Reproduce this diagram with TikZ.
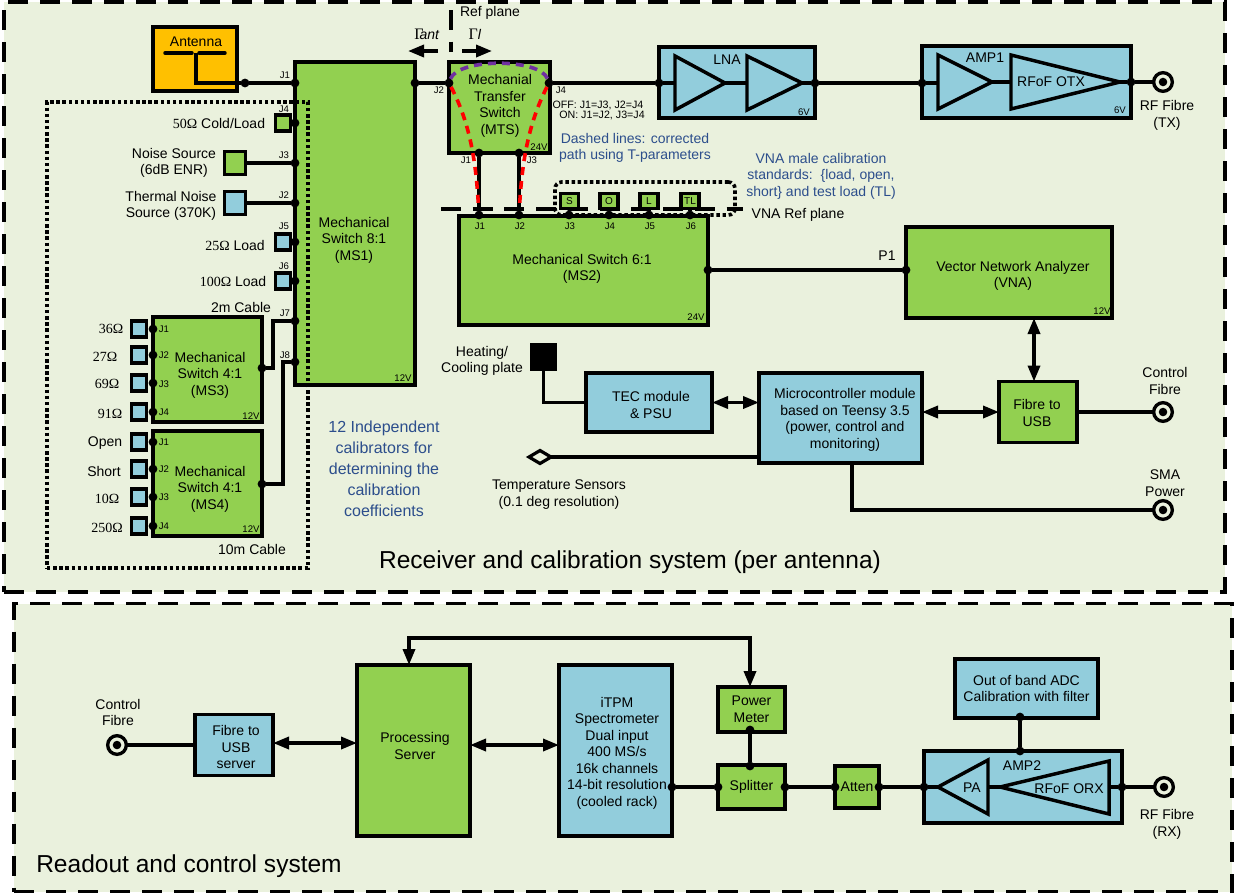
\documentclass[tikz,border=0pt]{standalone}
\usepackage{fontspec}
\setmainfont{Liberation Sans}
\newfontfamily\symfont{Liberation Serif}
\usetikzlibrary{arrows.meta,shapes.geometric}
\definecolor{panelbg}{RGB}{234,241,221}
\definecolor{mgreen}{RGB}{146,208,80}
\definecolor{mblue}{RGB}{146,205,220}
\definecolor{morange}{RGB}{255,192,0}
\definecolor{mtext}{RGB}{44,78,140}
\definecolor{mpurple}{RGB}{112,48,160}
\newcommand{\sr}[1]{{\symfont #1}}
\tikzset{
    wh/.style 2 args={minimum width=#1*0.75pt, minimum height=#2*0.75pt},
    box/.style={rectangle, draw, line width=2.6pt, inner sep=0pt, outer sep=0pt, font=\fontsize{10.5}{12.4}\selectfont, align=center},
    greenbox/.style={box, fill=mgreen},
    bluebox/.style={box, fill=mblue},
    dot/.style={circle, fill=black, inner sep=0pt, outer sep=0pt, minimum size=6.6pt},
    txt/.style={inner sep=0pt, yshift=-0.75pt, font=\fontsize{10.5}{12.4}\selectfont, align=center},
    smalltxt/.style={inner sep=0pt, font=\fontsize{7.2}{8.5}\selectfont, align=center},
    bluetxt/.style={txt, text=mtext},
    titletxt/.style={inner sep=0pt, font=\fontsize{18.4}{21}\selectfont},
    wire/.style={line width=2.6pt},
    amp/.style={line width=2.6pt, fill=mblue, line join=miter},
    rfport/.style={circle, draw, line width=2.5pt, fill=panelbg, inner sep=0pt, outer sep=0pt, minimum size=14pt,
        path picture={\fill[black] (path picture bounding box.center) circle (3.2pt);}},
    panel/.style={rectangle, draw, fill=panelbg, inner sep=0pt, outer sep=0pt, dash pattern=on 15pt off 9pt},
    refline/.style={line width=2.6pt, dash pattern=on 15pt off 8.8pt},
    dotbox/.style={rectangle, draw, line width=2.7pt, inner sep=0pt, outer sep=0pt, dash pattern=on 2.6pt off 2pt},
    corrected/.style={line width=2.7pt, dash pattern=on 6pt off 4.5pt},
}

\begin{document}
\begin{tikzpicture}[x=0.75pt, y=-0.75pt, >={Triangle[length=12pt, width=9pt]}]
    \useasboundingbox (0,0) rectangle (1234,894);

    % panels
    \node[panel, line width=2.6pt, wh={1221}{590}] (rxpanel) at (614.5,297) {};
    \node[panel, line width=2.4pt, wh={1218}{288}] (readpanel) at (623,747.5) {};
    \node[titletxt] (rxtitle) at (630,562) {Receiver and calibration system (per antenna)};
    \node[titletxt] (readtitle) at (189,866) {Readout and control system};

    % receiver: boxes
    \node[box, fill=morange, wh={84}{64}] (antenna) at (195,59) {};
    \node[greenbox, wh={120}{323}] (ms1) at (355,223.5) {};
    \node[greenbox, wh={101}{91}] (mts) at (499.5,107.5) {};
    \node[greenbox, wh={249}{109}] (ms2) at (583.5,270.5) {};
    \node[bluebox, wh={156}{71}] (lna) at (737,82.5) {};
    \node[bluebox, wh={209}{72}] (amp1) at (1026.5,82) {};
    \node[greenbox, wh={206}{91}] (vna) at (1009,272.5) {};
    \node[greenbox, wh={78}{61}] (fibreusb) at (1038,412) {};
    \node[bluebox, wh={163}{90}] (micro) at (840.5,418) {};
    \node[bluebox, wh={126}{59}] (tec) at (649,402.5) {};
    \node[greenbox, wh={109}{105}] (ms3) at (207.5,369.5) {};
    \node[greenbox, wh={109}{105}] (ms4) at (207.5,483.5) {};
    \node[fill=black, inner sep=0pt, wh={27}{28}] (plate) at (543.5,357) {};
    \node[diamond, draw, line width=2.4pt, fill=panelbg, inner sep=0pt, outer sep=0pt, wh={22}{13}] (tempsens) at (540,457) {};

    % calibrator loads
    \node[greenbox, wh={15}{16}] (cold) at (283,123) {};
    \node[greenbox, wh={21}{23}] (noise) at (235,163) {};
    \node[bluebox, wh={21}{23}] (thermal) at (235,203) {};
    \node[bluebox, wh={15}{16}] (lda) at (283,242) {};
    \node[bluebox, wh={15}{16}] (ldb) at (283,281) {};
    \node[bluebox, wh={15}{16}] (ldc) at (139,329) {};
    \node[bluebox, wh={15}{16}] (ldd) at (139,355) {};
    \node[bluebox, wh={15}{16}] (lde) at (139,383) {};
    \node[bluebox, wh={15}{16}] (ldf) at (139,412) {};
    \node[bluebox, wh={15}{16}] (ldg) at (139,442) {};
    \node[bluebox, wh={15}{16}] (ldh) at (139,469) {};
    \node[bluebox, wh={15}{16}] (ldi) at (139,497) {};
    \node[bluebox, wh={15}{16}] (ldj) at (139,526) {};

    % ports
    \node[dot] (ms1j1) at (295,83) {};
    \node[dot] (ms1j4) at (295,123) {};
    \node[dot] (ms1j3) at (295,163) {};
    \node[dot] (ms1j2) at (295,203) {};
    \node[dot] (ms1j5) at (295,242) {};
    \node[dot] (ms1j6) at (295,281) {};
    \node[dot] (ms1j7) at (295,321) {};
    \node[dot] (ms1j8) at (295,362) {};
    \node[dot] (ms1out) at (415,83) {};
    \node[dot] (antdot) at (245,83) {};
    \node[dot] (mtsj2) at (449,83) {};
    \node[dot] (mtsj4) at (549,83) {};
    \node[dot] (mtsj1) at (479,153) {};
    \node[dot] (mtsj3) at (519,153) {};
    \node[dot] (ms2j1) at (479,215) {};
    \node[dot] (ms2j2) at (519,215) {};
    \node[dot] (ms2j3) at (569,215) {};
    \node[dot] (ms2j4) at (609,215) {};
    \node[dot] (ms2j5) at (649,215) {};
    \node[dot] (ms2j6) at (690,215) {};
    \node[dot] (ms2p1) at (708,270) {};
    \node[dot] (vnap1) at (906,270) {};
    \node[dot] (lnain) at (659,83) {};
    \node[dot] (lnaout) at (815,83) {};
    \node[dot] (amp1in) at (922,83) {};
    \node[dot] (amp1out) at (1131,82) {};
    \node[dot] (ms3j1) at (153,329) {};
    \node[dot] (ms3j2) at (153,355) {};
    \node[dot] (ms3j3) at (153,383) {};
    \node[dot] (ms3j4) at (153,412) {};
    \node[dot] (ms4j1) at (153,442) {};
    \node[dot] (ms4j2) at (153,469) {};
    \node[dot] (ms4j3) at (153,497) {};
    \node[dot] (ms4j4) at (153,526) {};
    \node[dot] (ms3out) at (262,368) {};
    \node[dot] (ms4out) at (262,484) {};
    \node[rfport] (txport) at (1163,82) {};
    \node[rfport] (ctrlport) at (1163,412) {};
    \node[rfport] (smaport) at (1163,510) {};

    % dipole and amplifier triangles
    \coordinate (dipleft) at (165,53);
    \coordinate (dipgapl) at (192,53);
    \coordinate (dipgapr) at (199,53);
    \coordinate (dipright) at (225,53);
    \coordinate (dipfeed) at (196,53);
    \draw[wire, line cap=round] (dipleft) -- (dipgapl);
    \draw[wire, line cap=round] (dipgapr) -- (dipright);
    \draw[wire] (dipfeed) |- (antdot);
    \draw[amp] (675,56) -- (725,83) -- (675,110) -- cycle;
    \draw[amp] (747,56) -- (802,83) -- (747,110) -- cycle;
    \draw[amp] (938,55) -- (992,82) -- (938,109) -- cycle;
    \draw[amp] (1011,55) -- (1120,82) -- (1011,109) -- cycle;
    \coordinate (lnaa) at (675,83);
    \coordinate (lnab) at (725,83);
    \coordinate (lnac) at (747,83);
    \coordinate (lnad) at (802,83);
    \coordinate (ampa) at (938,83);
    \coordinate (ampb) at (992,82);
    \coordinate (ampc) at (1011,82);
    \coordinate (ampd) at (1120,82);

    % reference planes
    \coordinate (refa) at (451,10);
    \coordinate (refb) at (451,52);
    \coordinate (vrefa) at (441,209);
    \coordinate (vrefb) at (743,209);
    \draw[refline] (refa) -- (refb);
    \draw[refline] (vrefa) -- (vrefb);
    \coordinate (gantl) at (408,51);
    \coordinate (gantr) at (438,51);
    \coordinate (gll) at (462,51);
    \coordinate (glr) at (492,51);
    \draw[wire, ->] (gantr) -- (gantl);
    \draw[wire, ->] (gll) -- (glr);

    % VNA standards
    \node[dotbox, rounded corners=5pt, wh={180}{33}] (stdframe) at (645,198.5) {};
    \node[greenbox, wh={18}{15}, font=\fontsize{7.5}{9}\selectfont] (stds) at (569.5,201) {S};
    \node[greenbox, wh={18}{15}, font=\fontsize{7.5}{9}\selectfont] (stdo) at (609,201) {O};
    \node[greenbox, wh={18}{15}, font=\fontsize{7.5}{9}\selectfont] (stdl) at (649,201) {L};
    \node[greenbox, wh={18}{15}, font=\fontsize{7.5}{9}\selectfont] (stdtl) at (690,201) {TL};

    % receiver: wires
    \draw[wire] (antdot) -- (ms1j1);
    \draw[wire] (noise) -- (ms1j3);
    \draw[wire] (thermal) -- (ms1j2);
    \draw[wire] (cold) -- (ms1j4);
    \draw[wire] (lda) -- (ms1j5);
    \draw[wire] (ldb) -- (ms1j6);
    \draw[wire] (ms1out) -- (mtsj2);
    \draw[wire] (mtsj4) -- (lnain);
    \draw[wire] (lnain) -- (lnaa);
    \draw[wire] (lnab) -- (lnac);
    \draw[wire] (lnad) -- (lnaout);
    \draw[wire] (lnaout) -- (amp1in);
    \draw[wire] (amp1in) -- (ampa);
    \draw[wire] (ampb) -- (ampc);
    \draw[wire] (ampd) -- (amp1out);
    \draw[wire] (amp1out) -- (txport);
    \draw[wire] (mtsj1) -- (ms2j1);
    \draw[wire] (mtsj3) -- (ms2j2);
    \draw[wire] (stds) -- (ms2j3);
    \draw[wire] (stdo) -- (ms2j4);
    \draw[wire] (stdl) -- (ms2j5);
    \draw[wire] (stdtl) -- (ms2j6);
    \draw[wire] (ms2p1) -- (vnap1);
    \coordinate (ms3bend) at (273,321);
    \coordinate (ms4bend) at (283,362);
    \draw[wire] (ms3out) -| (ms3bend) -- (ms1j7);
    \draw[wire] (ms4out) -| (ms4bend) -- (ms1j8);
    \draw[wire, <->] (vna.south -| 1034,318) -- (fibreusb.north -| 1034,382);
    \draw[wire, <->] (tec.east) -- (micro.west |- tec.east);
    \draw[wire, <->] (micro.east |- fibreusb.west) -- (fibreusb.west);
    \draw[wire] (fibreusb) -- (ctrlport);
    \draw[wire] (plate.south) |- (tec.west);
    \draw[wire] (tempsens.east) -- (micro.west |- tempsens.east);
    \coordinate (microsma) at (852,463);
    \draw[wire] (microsma) |- (smaport);

    % dashed paths
    \draw[corrected, red, shorten >=5pt] (mtsj2) .. controls (471,125) and (476,165) .. (ms2j1);
    \draw[corrected, red, shorten >=5pt] (mtsj4) .. controls (527.5,125) and (522,165) .. (ms2j2);
    \draw[corrected, mpurple] (mtsj2) .. controls (458,58) and (540,58) .. (mtsj4);
    \node[dotbox, wh={261}{466}] (calframe) at (177.5,335) {};

    % receiver: texts
    \node[txt] (antlabel) at (196,41) {Antenna};
    \node[txt] (ms1text) at (354,239) {Mechanical\\Switch 8:1\\(MS1)};
    \node[txt] (mtstext) at (500,105) {Mechanial\\Transfer\\Switch\\(MTS)};
    \node[txt] (ms2text) at (582,268) {Mechanical Switch 6:1\\(MS2)};
    \node[txt] (vnatext) at (1013,275) {Vector Network Analyzer\\(VNA)};
    \node[txt] (fibretext) at (1037,412) {Fibre to\\USB};
    \node[txt] (microtext) at (845,419) {Microcontroller module\\based on Teensy 3.5\\(power, control and\\monitoring)};
    \node[txt] (tectext) at (651,404) {TEC module\\\& PSU};
    \node[txt] (ms3text) at (210,374) {Mechanical\\Switch 4:1\\(MS3)};
    \node[txt] (ms4text) at (210,488) {Mechanical\\Switch 4:1\\(MS4)};
    \node[txt] (lnatext) at (727,59) {LNA};
    \node[txt] (amp1text) at (985,57) {AMP1};
    \node[txt] (otxtext) at (1051,81) {RFoF OTX};
    \node[txt] (reflabel) at (490,12) {Ref plane};
    \node[txt] (gantlabel) at (427,33) {{\symfont\fontsize{12}{12}\selectfont Γ}\hspace{-3pt}\textit{ant}};
    \node[txt] (gllabel) at (475,33) {{\symfont\fontsize{12}{12}\selectfont Γ}\textit{l}};
    \node[txt] (coldtext) at (219,122) {\sr{50Ω} Cold/Load};
    \node[txt] (noisetext) at (174,162) {Noise Source\\(6dB ENR)};
    \node[txt] (thermaltext) at (171,205) {Thermal Noise\\Source (370K)};
    \node[txt] (ldatext) at (235,244) {\sr{25Ω} Load};
    \node[txt] (ldbtext) at (233,280) {\sr{100Ω} Load};
    \node[txt] (ldctext) at (111,328) {\sr{36Ω}};
    \node[txt] (lddtext) at (105,356) {\sr{27Ω}};
    \node[txt] (ldetext) at (107,383) {\sr{69Ω}};
    \node[txt] (ldftext) at (110,413) {\sr{91Ω}};
    \node[txt] (ldgtext) at (105,442) {Open};
    \node[txt] (ldhtext) at (104,470) {Short};
    \node[txt] (lditext) at (107,498) {\sr{10Ω}};
    \node[txt] (ldjtext) at (107,527) {\sr{250Ω}};
    \node[txt] (cablea) at (241,306) {2m Cable};
    \node[txt] (cableb) at (252,548) {10m Cable};
    \node[txt] (txtext) at (1167,114.5) {RF Fibre\\(TX)};
    \node[txt] (ctrltext) at (1165,380) {Control\\Fibre};
    \node[txt] (smatext) at (1165,482) {SMA\\Power};
    \node[txt] (platetext) at (482,360) {Heating/\\Cooling plate};
    \node[txt] (senstext) at (559,493.5) {Temperature Sensors\\(0.1 deg resolution)};
    \node[txt] (p1text) at (887,255) {P1};
    \node[txt] (vnareftext) at (798,214) {VNA Ref plane};
    \node[bluetxt] (dashtext) at (635,147) {Dashed lines: corrected\\path using T-parameters};
    \node[bluetxt] (stdtext) at (821,175) {VNA male calibration\\standards:\ \ \{load, open,\\short\} and test load (TL)};
    \node[bluetxt, font=\fontsize{12}{15.8}\selectfont] (caltext) at (384,468) {12 Independent\\calibrators for\\determining the\\calibration\\coefficients};
    \node[smalltxt, font=\fontsize{8}{7.5}\selectfont] (mtstable) at (598,110) {OFF: J1=J3, J2=J4\\\hspace*{6pt}ON: J1=J2, J3=J4};

    % small port labels
    \node[smalltxt] (l1) at (285,75) {J1};
    \node[smalltxt] (l2) at (284,109) {J4};
    \node[smalltxt] (l3) at (284,155) {J3};
    \node[smalltxt] (l4) at (284,195) {J2};
    \node[smalltxt] (l5) at (284,226) {J5};
    \node[smalltxt] (l6) at (284,266) {J6};
    \node[smalltxt] (l7) at (285,313) {J7};
    \node[smalltxt] (l8) at (285,355) {J8};
    \node[smalltxt] (l9) at (439,90) {J2};
    \node[smalltxt] (l10) at (561,90) {J4};
    \node[smalltxt] (l11) at (466,160) {J1};
    \node[smalltxt] (l12) at (532,160) {J3};
    \node[smalltxt] (l13) at (480,226) {J1};
    \node[smalltxt] (l14) at (520,226) {J2};
    \node[smalltxt] (l15) at (570,226) {J3};
    \node[smalltxt] (l16) at (610,226) {J4};
    \node[smalltxt] (l17) at (650,226) {J5};
    \node[smalltxt] (l18) at (691,226) {J6};
    \node[smalltxt] (l19) at (164,329) {J1};
    \node[smalltxt] (l20) at (164,355) {J2};
    \node[smalltxt] (l21) at (164,384) {J3};
    \node[smalltxt] (l22) at (164,412) {J4};
    \node[smalltxt] (l23) at (164,442) {J1};
    \node[smalltxt] (l24) at (164,469) {J2};
    \node[smalltxt] (l25) at (164,497) {J3};
    \node[smalltxt] (l26) at (164,526) {J4};
    \node[smalltxt] (v1) at (403,378) {12V};
    \node[smalltxt] (v2) at (539,147) {24V};
    \node[smalltxt] (v3) at (696,317) {24V};
    \node[smalltxt] (v4) at (804,112) {6V};
    \node[smalltxt] (v5) at (1120,110) {6V};
    \node[smalltxt] (v6) at (1102,311) {12V};
    \node[smalltxt] (v7) at (251,416) {12V};
    \node[smalltxt] (v8) at (251,529) {12V};

    % readout: boxes
    \node[bluebox, wh={78}{61}] (usbserver) at (234,745) {};
    \node[greenbox, wh={113}{171}] (server) at (413.5,750.5) {};
    \node[bluebox, wh={113}{171}] (itpm) at (615.5,750.5) {};
    \node[greenbox, wh={67}{45}] (meter) at (751.5,709.5) {Power\\Meter};
    \node[greenbox, wh={67}{44}] (splitter) at (751.5,787) {Splitter};
    \node[greenbox, wh={44}{42}] (atten) at (857,787) {Atten};
    \node[bluebox, wh={198}{72}] (amp2) at (1023,787) {};
    \node[bluebox, wh={143}{59}] (adc) at (1026.5,688.5) {Out of band ADC\\Calibration with filter};
    \node[rfport] (ctrlportb) at (117,745) {};
    \node[rfport] (rxport) at (1164,787) {};

    \draw[amp] (938,787) -- (988,760) -- (988,814) -- cycle;
    \draw[amp] (1000,787) -- (1109,761) -- (1109,814) -- cycle;
    \coordinate (paa) at (938,787);
    \coordinate (pab) at (988,787);
    \coordinate (pac) at (1000,787);
    \coordinate (pad) at (1109,787);

    \node[dot] (itpmout) at (672,787) {};
    \node[dot] (splitl) at (718,787) {};
    \node[dot] (splitr) at (785,787) {};
    \node[dot] (splitt) at (750,766) {};
    \node[dot] (meterb) at (750,730) {};
    \node[dot] (attenl) at (835,787) {};
    \node[dot] (attenr) at (879,787) {};
    \node[dot] (amp2l) at (924,787) {};
    \node[dot] (amp2r) at (1122,787) {};
    \node[dot] (amp2t) at (1020,751) {};
    \node[dot] (adcb) at (1020,717) {};

    % readout: wires
    \draw[wire] (ctrlportb) -- (usbserver);
    \coordinate (usbr) at (273,743);
    \coordinate (serverl) at (357,743);
    \coordinate (serverr) at (470,745);
    \coordinate (itpml) at (559,745);
    \draw[wire, <->] (usbr) -- (serverl);
    \draw[wire, <->] (serverr) -- (itpml);
    \draw[wire] (itpmout) -- (splitl);
    \draw[wire] (splitr) -- (attenl);
    \draw[wire] (attenr) -- (amp2l);
    \draw[wire] (amp2l) -- (paa);
    \draw[wire] (pab) -- (pac);
    \draw[wire] (pad) -- (amp2r);
    \draw[wire] (amp2r) -- (rxport);
    \draw[wire] (meterb) -- (splitt);
    \draw[wire] (adcb) -- (amp2t);
    \coordinate (fbserver) at (409,665);
    \coordinate (fbleft) at (409,638);
    \coordinate (fbright) at (750,638);
    \coordinate (fbmeter) at (750,687);
    \draw[wire, <->] (fbserver) -- (fbleft) -- (fbright) -- (fbmeter);

    % readout: texts
    \node[txt] (usbtext) at (236,746) {Fibre to\\USB\\server};
    \node[txt] (serverfibre) at (118,711.5) {Control\\Fibre};
    \node[txt] (servertext) at (415,745) {Processing\\Server};
    \node[txt] (itpmtext) at (617,752) {iTPM\\Spectrometer\\Dual input\\400 MS/s\\16k channels\\14-bit resolution\\(cooled rack)};
    \node[txt] (amp2text) at (1022,765) {AMP2};
    \node[txt] (patext) at (972,787) {PA};
    \node[txt] (orxtext) at (1069,788) {RFoF ORX};
    \node[txt] (rxtext) at (1167,823.5) {RF Fibre\\(RX)};
\end{tikzpicture}
\end{document}
